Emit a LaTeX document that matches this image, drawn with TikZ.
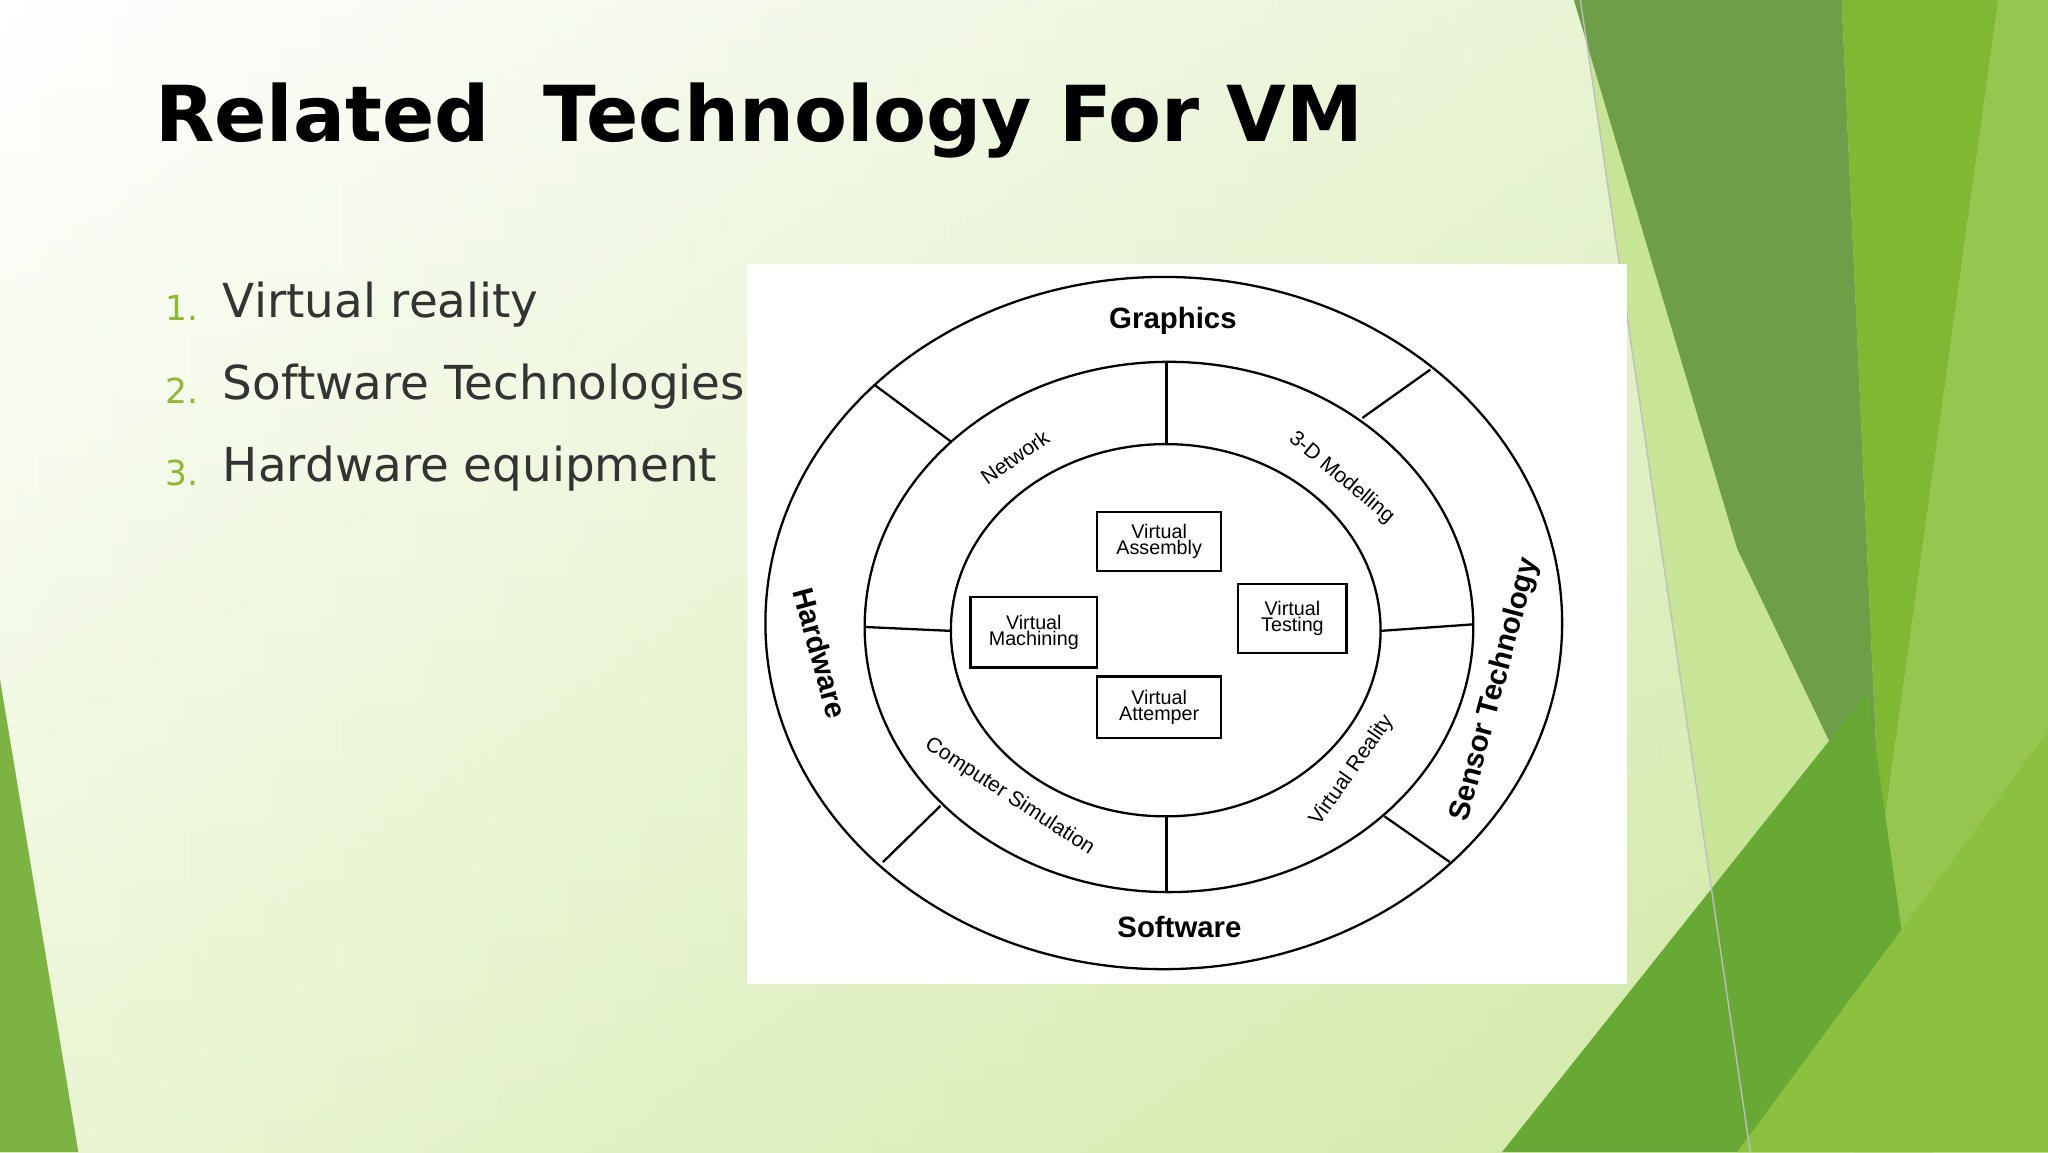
\documentclass[tikz,border=0pt]{standalone}
\usepackage{fontspec}
\setmainfont{DejaVu Sans}
\newfontfamily\arialf{Liberation Sans}
\begin{document}
\begin{tikzpicture}[x=1cm,y=-1cm,
  lbl/.style={font=\arialf\fontsize{4.6}{5}\selectfont,inner sep=0},
  big/.style={font=\arialf\bfseries\fontsize{6.4}{7}\selectfont,inner sep=0},
  vbox/.style={draw,line width=0.5pt,font=\arialf\fontsize{4.3}{4.6}\selectfont,align=center,minimum width=0.95cm,inner sep=1pt},
  ring/.style={line width=0.5pt},
  num/.style={anchor=west,inner sep=0,text={rgb,255:red,140;green,184;blue,50},font=\fontsize{7.5}{9}\selectfont},
  item/.style={anchor=west,inner sep=0,text=black!80,font=\fontsize{10.2}{12}\selectfont}]
\useasboundingbox (0,0) rectangle (15.68,8.82);
\shade[top color=white,bottom color={rgb,255:red,214;green,236;blue,170}] (0,0) rectangle (15.68,8.82);
\shade[left color=white,right color={rgb,255:red,200;green,228;blue,150},opacity=0.5] (0,0) rectangle (15.68,8.82);
% right decorations
\fill[color={rgb,255:red,200;green,228;blue,150}] (12.1,0) -- (13.4,8.82) -- (15.68,8.82) -- (15.68,0) -- cycle;
\fill[color={rgb,255:red,111;green,158;blue,72}] (12.05,0) -- (14.1,0) -- (14.4,6.5) -- (13.3,4.2) -- cycle;
\fill[color={rgb,255:red,128;green,184;blue,52}] (14.1,0) -- (15.3,0) -- (14.4,6.5) -- cycle;
\fill[color={rgb,255:red,150;green,198;blue,80}] (15.3,0) -- (15.68,0) -- (15.68,8.82) -- (14.2,8.82) -- (14.4,6.5) -- cycle;
\fill[color={rgb,255:red,104;green,168;blue,52}] (11.5,8.82) -- (14.3,5.3) -- (14.8,8.82) -- cycle;
\fill[color={rgb,255:red,140;green,192;blue,64}] (13.3,8.82) -- (15.68,5.6) -- (15.68,8.82) -- cycle;
\fill[color={rgb,255:red,124;green,179;blue,66}] (0,5.2) -- (0.6,8.82) -- (0,8.82) -- cycle;
\draw[gray!50,line width=0.3pt] (12.1,0) -- (13.4,8.82);
% title and list
\node[anchor=west,inner sep=0] (title) at (1.18,0.92) {\resizebox{9.25cm}{!}{\bfseries Related\ \ Technology For VM}};
\node[num] (n1) at (1.26,2.36) {1.};
\node[num] (n2) at (1.26,2.99) {2.};
\node[num] (n3) at (1.26,3.62) {3.};
\node[item] (t1) at (1.70,2.33) {Virtual reality};
\node[item] (t2) at (1.70,2.96) {Software Technologies};
\node[item] (t3) at (1.70,3.59) {Hardware equipment};
% diagram
\fill[white] (5.72,2.02) rectangle (12.46,7.53);
\draw[ring] (8.91,4.77) ellipse [x radius=3.05,y radius=2.65];
\draw[ring] (8.95,4.80) ellipse [x radius=2.33,y radius=2.03];
\draw[ring] (8.925,4.825) ellipse [x radius=1.645,y radius=1.425];
\draw[ring] (6.70,2.95) -- (7.28,3.38);
\draw[ring] (10.43,3.20) -- (10.95,2.83);
\draw[ring] (6.76,6.60) -- (7.20,6.17);
\draw[ring] (10.60,6.25) -- (11.10,6.60);
\draw[ring] (8.93,2.76) -- (8.93,3.40);
\draw[ring] (8.93,6.25) -- (8.93,6.83);
\draw[ring] (6.62,4.80) -- (7.28,4.83);
\draw[ring] (10.57,4.83) -- (11.28,4.78);
\node[big] (g) at (8.98,2.46) {Graphics};
\node[big] (s) at (9.03,7.10) {Software};
\node[big,rotate=-75] (h) at (6.28,5.00) {Hardware};
\node[big,rotate=75] (st) at (11.45,5.28) {Sensor Technology};
\node[lbl,rotate=35] (nw) at (7.77,3.50) {Network};
\node[lbl,rotate=-40] (md) at (10.27,3.66) {3-D Modelling};
\node[lbl,rotate=-33] (cs) at (7.73,6.10) {Computer Simulation};
\node[lbl,rotate=55] (vr) at (10.35,5.90) {Virtual Reality};
\node[vbox,minimum width=0.95cm,minimum height=0.45cm] (va) at (8.875,4.145) {Virtual\\[-1pt]Assembly};
\node[vbox,minimum width=0.83cm,minimum height=0.53cm] (vt) at (9.895,4.735) {Virtual\\[-1pt]Testing};
\node[vbox,minimum width=0.97cm,minimum height=0.54cm] (vm) at (7.915,4.84) {Virtual\\[-1pt]Machining};
\node[vbox,minimum width=0.95cm,minimum height=0.47cm] (vat) at (8.875,5.415) {Virtual\\[-1pt]Attemper};
\end{tikzpicture}
\end{document}
